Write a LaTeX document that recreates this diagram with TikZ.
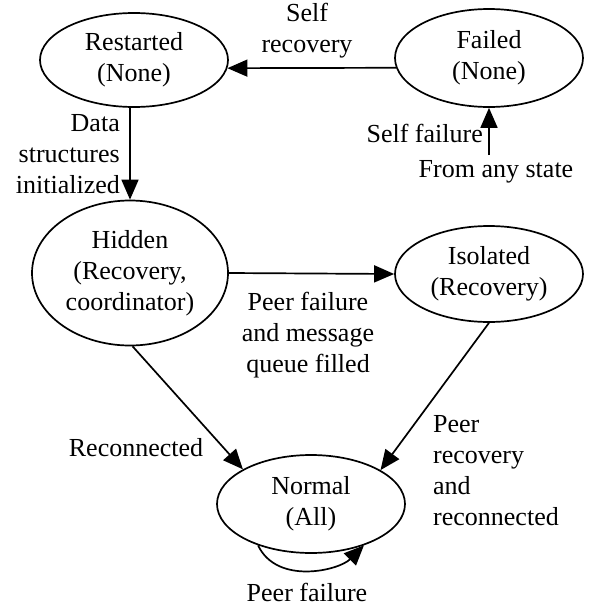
\documentclass[tikz,border=0pt]{standalone}
\usepackage{fontspec}
\setmainfont{Liberation Serif}
\usetikzlibrary{shapes.geometric,arrows.meta,calc}
\begin{document}
\begin{tikzpicture}[x=1pt,y=-1pt,
  every node/.style={font=\fontsize{26}{31}\selectfont},
  state/.style={ellipse,draw,line width=1.7pt,inner sep=0pt,align=center},
  lbl/.style={inner sep=0pt,align=center},
  arr/.style={line width=1.7pt,-{Triangle[length=20pt,width=17pt]}}]
\useasboundingbox (0,0) rectangle (590,608);
\node[state,minimum width=188pt,minimum height=94pt] (restarted) at (134,60) {Restarted\\(None)};
\node[state,minimum width=188pt,minimum height=98pt] (failed) at (489,58) {Failed\\(None)};
\node[state,minimum width=196pt,minimum height=145pt] (hidden) at (130,273) {Hidden\\(Recovery,\\coordinator)};
\node[state,minimum width=188pt,minimum height=96pt] (isolated) at (489,274) {Isolated\\(Recovery)};
\node[state,minimum width=188pt,minimum height=98pt] (normal) at (311,504) {Normal\\(All)};
\coordinate (anyend) at (489,155);
% connectors
\draw[arr] (failed.186) -- (restarted.355);
\draw[arr] (restarted.south -| hidden.north) -- (hidden.north);
\draw[arr] (hidden.east) -- (isolated.west);
\draw[arr] (hidden.272) -- (normal.153);
\draw[arr] (isolated.south) -- (normal.26);
\draw[arr] (normal.218) .. controls ($(normal.218)+(19,40)$) and ($(normal.322)+(-25,25)$) .. (normal.322);
\draw[arr] (anyend) -- (failed.south);
% labels
\node[lbl] (selfrec) at (307,31) {Self\\recovery};
\node[lbl,anchor=east,align=right] (datalbl) at (120,154) {Data\\structures\\initialized};
\node[lbl] (pflbl) at (308,335) {Peer failure\\and message\\queue filled};
\node[lbl,anchor=east] (sflbl) at (483,133) {Self failure};
\node[lbl] (anylbl) at (496,172) {From any state};
\node[lbl] (reclbl) at (136,448) {Reconnected};
\node[lbl,anchor=west,align=left] (prlbl) at (433,471) {Peer\\recovery\\and\\reconnected};
\node[lbl] (pf2) at (307,592) {Peer failure};
\end{tikzpicture}
\end{document}
